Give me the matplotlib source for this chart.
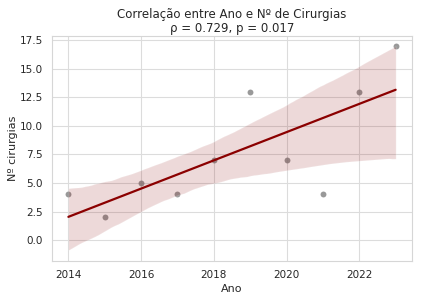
import matplotlib
matplotlib.use('Agg')
import matplotlib.pyplot as plt
import seaborn as sns
import pandas as pd

anos = [2014, 2015, 2016, 2017, 2018, 2019, 2020, 2021, 2022, 2023]
cirurgias = [4, 2, 5, 4, 7, 13, 7, 4, 13, 17]
rho, pval = 0.729, 0.017

sns.set_style('whitegrid', {'grid.color': '#dcdcdc', 'axes.edgecolor': '#d6d6d6'})
plt.rcParams['font.family'] = ['DejaVu Sans']

df = pd.DataFrame({'Ano': anos, 'Nº cirurgias': cirurgias})

fig, ax = plt.subplots(figsize=(4.23, 3.02), dpi=100)
sns.regplot(data=df, x='Ano', y='Nº cirurgias', ax=ax, color='darkred', seed=7,
            scatter_kws={'color': 'gray', 'alpha': 0.8, 's': 18, 'linewidths': 0},
            line_kws={'color': 'darkred', 'linewidth': 1.6})

ax.set_title('Correlação entre Ano e Nº de Cirurgias\nρ = %.3f, p = %.3f' % (rho, pval),
             fontsize=8.5, pad=3, linespacing=1.1)
ax.set_xlabel('Ano', fontsize=8, labelpad=3)
ax.set_ylabel('Nº cirurgias', fontsize=8, labelpad=1)
ax.tick_params(labelsize=7.5, pad=3)
ax.set_xlim(2013.55, 2023.45)
ax.set_ylim(-1.85, 17.85)

fig.subplots_adjust(left=0.123, right=0.974, top=0.88, bottom=0.135)
fig.savefig('out.png', dpi=100)
